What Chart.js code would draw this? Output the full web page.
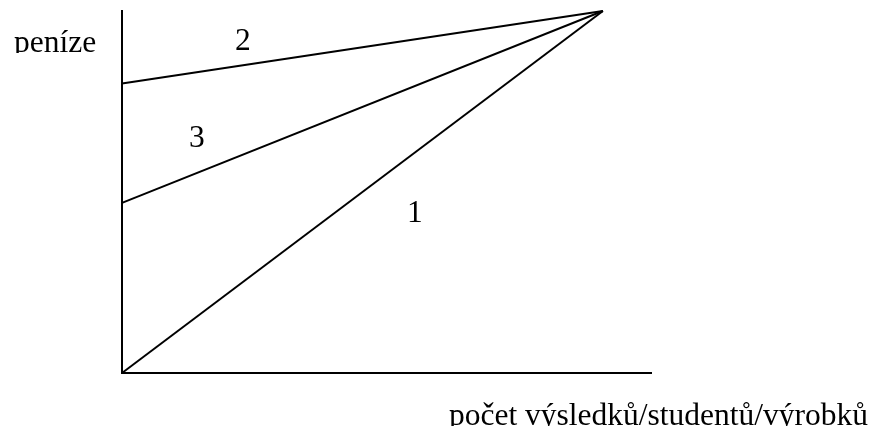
<!DOCTYPE html>
<html>
<head>
<meta charset="utf-8">
<script src="https://cdn.jsdelivr.net/npm/chart.js@4"></script>
<style>
html,body{margin:0;padding:0;background:#fff;overflow:hidden;}
#wrap{width:878px;height:431px;}
</style>
</head>
<body>
<div id="wrap"><canvas id="c" width="878" height="431"></canvas></div>
<script>
// Data
const lineNames = ['1', '2', '3'];
const startX = [0, 0, 0];
const startY = [0, 80, 47];
const meetX = [100, 100, 100];
const meetY = [100, 100, 100];
const xAxisMax = 110;
const yAxisMax = 100;
const yAxisLabel = 'peníze';
const xAxisLabel = 'počet výsledků/studentů/výrobků';

const FONT = '31.5px "Liberation Serif", "Times New Roman", serif';

const labelPlugin = {
  id: 'labels',
  afterDraw(chart) {
    const ctx = chart.ctx;
    ctx.save();
    ctx.fillStyle = '#000';
    ctx.font = FONT;
    ctx.textBaseline = 'alphabetic';
    ctx.textAlign = 'left';
    // axis titles (descenders hidden as in the reference)
    ctx.save();
    ctx.beginPath();
    ctx.rect(0, 0, 120, 53);
    ctx.clip();
    ctx.fillText(yAxisLabel, 14, 52);
    ctx.restore();
    ctx.save();
    ctx.beginPath();
    ctx.rect(400, 380, 478, 46);
    ctx.clip();
    ctx.fillText(xAxisLabel, 449, 425);
    ctx.restore();
    ctx.fillText(lineNames[1], 235, 50);
    ctx.fillText(lineNames[2], 189, 147);
    ctx.fillText(lineNames[0], 407, 222);
    ctx.restore();
  }
};

const datasets = lineNames.map((name, i) => ({
  label: name,
  data: [{x: startX[i], y: startY[i]}, {x: meetX[i], y: meetY[i]}],
  borderColor: '#000',
  borderWidth: 2,
  pointRadius: 0,
  showLine: true,
  fill: false,
  clip: false,
  tension: 0
}));

new Chart(document.getElementById('c'), {
  type: 'scatter',
  data: { datasets },
  options: {
    responsive: false,
    animation: false,
    devicePixelRatio: 1,
    layout: { padding: { left: 122, top: 11, right: 227, bottom: 58 } },
    plugins: { legend: { display: false }, tooltip: { enabled: false } },
    scales: {
      x: {
        type: 'linear', min: 0, max: xAxisMax,
        ticks: { display: false },
        grid: { display: false, drawTicks: false },
        border: { display: true, color: '#000', width: 2 },
        afterFit(s) { s.height = 0; }
      },
      y: {
        type: 'linear', min: 0, max: yAxisMax,
        ticks: { display: false },
        grid: { display: false, drawTicks: false },
        border: { display: true, color: '#000', width: 2 },
        afterFit(s) { s.width = 0; }
      }
    }
  },
  plugins: [labelPlugin]
});
</script>
</body>
</html>
